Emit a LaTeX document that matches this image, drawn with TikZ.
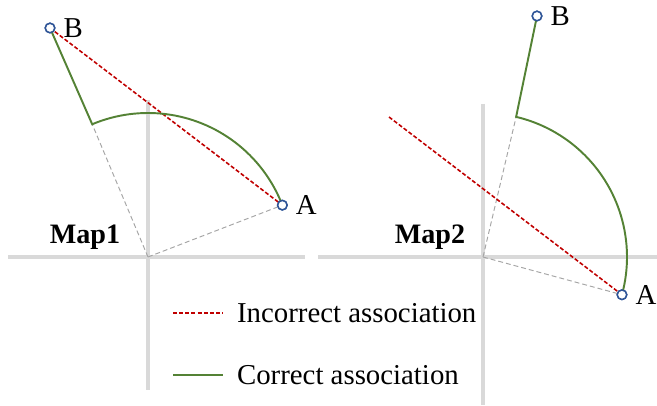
\documentclass[tikz,border=0pt]{standalone}
\usepackage{fontspec}
\setmainfont{Liberation Serif}
\usetikzlibrary{positioning, calc}
\definecolor{grigioasse}{HTML}{D9D9D9}
\definecolor{grigioraggio}{HTML}{A6A6A6}
\definecolor{rossoerr}{HTML}{C00000}
\definecolor{verdeok}{HTML}{548235}
\definecolor{blupunto}{HTML}{2F5597}

\begin{document}
\begin{tikzpicture}
        [asse/.style={grigioasse, line width=1.8pt},
         raggio/.style={grigioraggio, line width=0.55pt, dash pattern=on 2.8pt off 1.7pt},
         errata/.style={rossoerr, line width=0.9pt, dash pattern=on 2.3pt off 1.2pt},
         corretta/.style={verdeok, line width=1.1pt},
         punto/.style={circle, draw=blupunto, fill=white, line width=0.85pt, inner sep=0pt, minimum size=0.19cm},
         etichetta/.style={font=\fontsize{16.4}{18}\selectfont, inner sep=1pt},
         titolo/.style={font=\fontsize{16}{18}\selectfont\bfseries, inner sep=1pt}]
        \useasboundingbox (0,0) rectangle (13.14,8.12);
        %disegno assi Map1
            \draw[asse] (0.16,2.98) -- (6.10,2.98);
            \draw[asse] (2.96,6.12) -- (2.96,0.32);
        %disegno assi Map2
            \draw[asse] (6.36,2.98) -- (13.14,2.98);
            \draw[asse] (9.66,6.04) -- (9.66,0.02);
        %centri e punti
            \coordinate (O1) at (2.96,2.98);
            \coordinate (O2) at (9.66,2.98);
            \coordinate (K1) at ($(O1)+(112.8:2.88)$);
            \coordinate (K2) at ($(O2)+(76.7:2.88)$);
            \coordinate (R2) at (7.78,5.78);
            \node[punto] (B1) at (1.00,7.56) {};
            \node[punto] (A1) at ($(O1)+(21.1:2.88)$) {};
            \node[punto] (B2) at (10.74,7.80) {};
            \node[punto] (A2) at ($(O2)+(-15.2:2.88)$) {};
        %raggi tratteggiati
            \draw[raggio] (O1) -- (K1);
            \draw[raggio] (O1) -- (A1.center);
            \draw[raggio] (O2) -- (K2);
            \draw[raggio] (O2) -- (A2.center);
        %associazione errata
            \draw[errata] (B1.center) -- (A1.center);
            \draw[errata] (R2) -- (A2.center);
        %associazione corretta
            \draw[corretta] (B1.center) -- (K1) arc[start angle=112.8, end angle=21.1, radius=2.88];
            \draw[corretta] (B2.center) -- (K2) arc[start angle=76.7, end angle=-15.2, radius=2.88];
        %ridisegno punti sopra le linee
            \node[punto] at (B1) {};
            \node[punto] at (A1) {};
            \node[punto] at (B2) {};
            \node[punto] at (A2) {};
        %label
            \node[etichetta, right=0.12 of B1] (lB1) {B};
            \node[etichetta, right=0.12 of A1] (lA1) {A};
            \node[etichetta, right=0.12 of B2] (lB2) {B};
            \node[etichetta, right=0.12 of A2] (lA2) {A};
            \node[titolo] (t1) at (1.70,3.38) {Map1};
            \node[titolo] (t2) at (8.60,3.38) {Map2};
        %legenda
            \coordinate (L1a) at (3.46,1.86);
            \coordinate (L1b) at (4.46,1.86);
            \coordinate (L2a) at (3.46,0.62);
            \coordinate (L2b) at (4.46,0.62);
            \draw[errata] (L1a) -- (L1b);
            \draw[corretta] (L2a) -- (L2b);
            \node[etichetta, right=0.24 of L1b] (leg1) {Incorrect association};
            \node[etichetta, right=0.24 of L2b] (leg2) {Correct association};
    \end{tikzpicture}
\end{document}
